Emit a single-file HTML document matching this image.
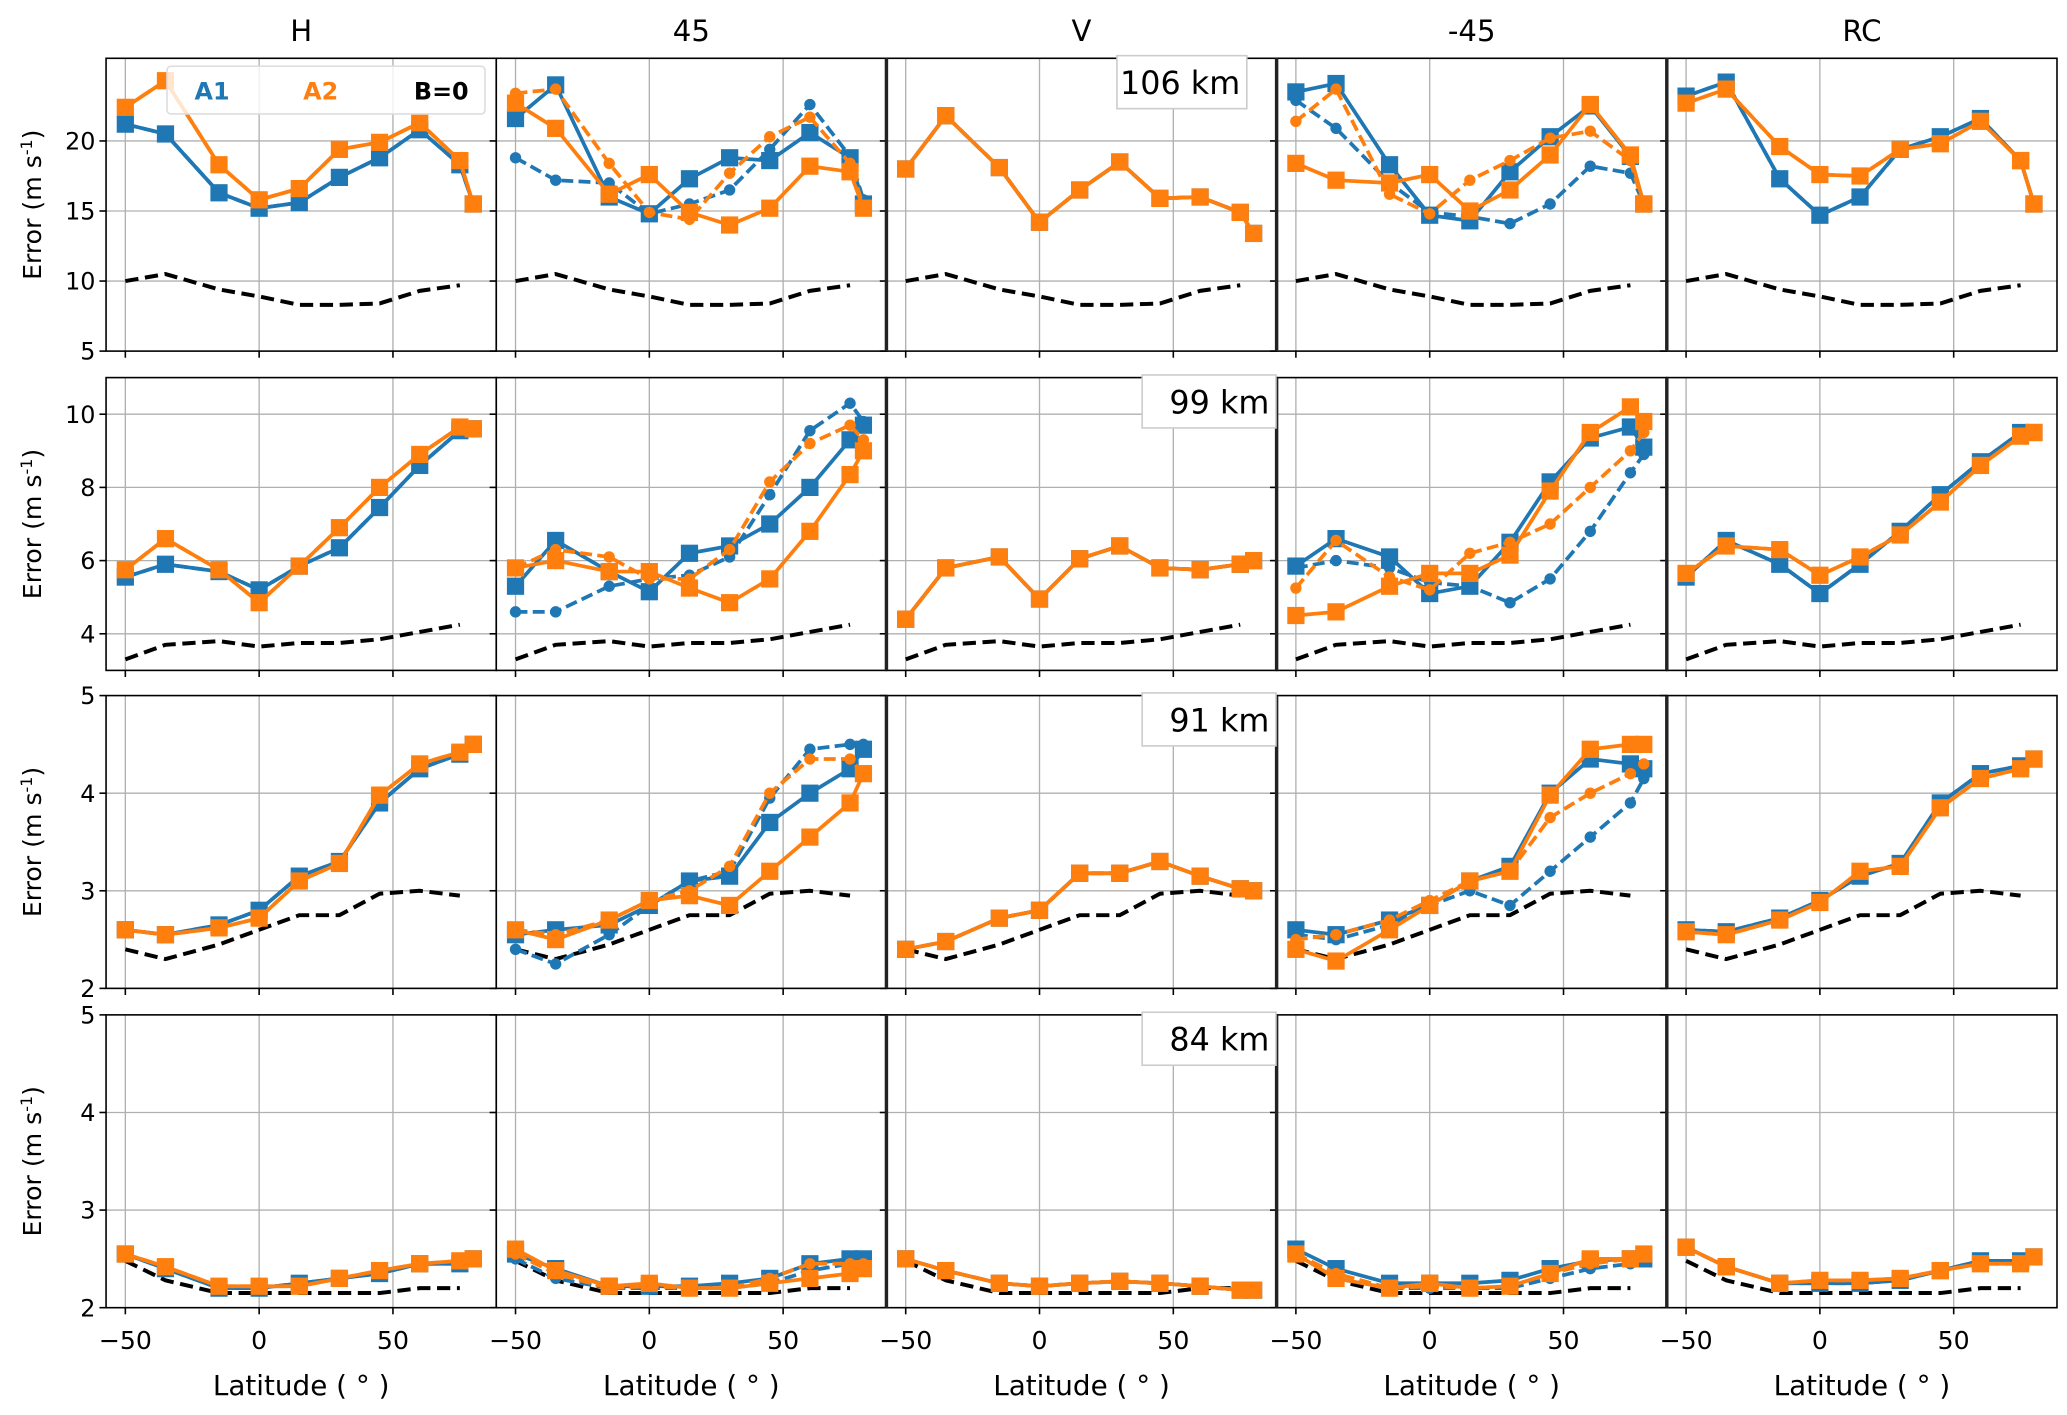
<!DOCTYPE html>
<html><head><meta charset="utf-8"><style>
html,body{margin:0;padding:0;background:#fff}
svg{display:block}
text{font-family:"DejaVu Sans","Liberation Sans",sans-serif}
</style></head><body>
<svg id="fig" width="2067" height="1415" viewBox="0 0 1560 1068" xmlns="http://www.w3.org/2000/svg"></svg>
<script>
const lats = [-50,-35,-15,0,15,30,45,60,75,80];
const colTitles = ["H","45","V","-45","RC"];
const rowLabels = ["106 km","99 km","91 km","84 km"];
const rowYTicks = [[5,10,15,20],[4,6,8,10],[2,3,4,5],[2,3,4,5]];
const xTicks = [-50,0,50];
// B=0 reference (same for every column in a row)
const b0_106 = [10.0,10.5,9.4,8.9,8.3,8.3,8.4,9.3,9.7];
const b0_99 = [3.3,3.7,3.8,3.65,3.75,3.75,3.85,4.05,4.25];
const b0_91 = [2.4,2.3,2.45,2.6,2.75,2.75,2.97,3.0,2.95];
const b0_84 = [2.48,2.28,2.15,2.15,2.15,2.15,2.15,2.2,2.2];
// row 106 km
const r106_H_a1 = [21.2,20.5,16.3,15.2,15.6,17.4,18.8,20.8,18.3,15.5];
const r106_H_a2 = [22.4,24.3,18.3,15.8,16.6,19.4,19.9,21.3,18.6,15.5];
const r106_45_a1s = [21.6,24.0,16.0,14.8,17.3,18.8,18.6,20.6,18.8,15.5];
const r106_45_a1d = [18.8,17.2,17.0,14.8,15.5,16.5,19.4,22.6,18.9,15.8];
const r106_45_a2s = [22.7,20.9,16.2,17.6,14.9,14.0,15.2,18.2,17.8,15.2];
const r106_45_a2d = [23.4,23.7,18.4,14.9,14.4,17.7,20.3,21.7,18.4,15.3];
const r106_V = [18.0,21.8,18.1,14.2,16.5,18.5,15.9,16.0,14.9,13.4];
const r106_m45_a1s = [23.5,24.1,18.3,14.7,14.3,17.8,20.3,22.5,18.9,15.5];
const r106_m45_a1d = [22.9,20.9,17.0,14.9,14.6,14.1,15.5,18.2,17.7,15.5];
const r106_m45_a2s = [18.4,17.2,17.0,17.6,15.0,16.5,19.0,22.6,19.0,15.5];
const r106_m45_a2d = [21.4,23.7,16.2,14.8,17.2,18.6,20.2,20.7,18.6,15.3];
const r106_RC_a1 = [23.2,24.2,17.3,14.7,16.0,19.4,20.3,21.6,18.6,15.5];
const r106_RC_a2 = [22.7,23.7,19.6,17.6,17.5,19.4,19.8,21.4,18.6,15.5];
// row 99 km
const r99_H_a1 = [5.55,5.9,5.7,5.2,5.85,6.35,7.45,8.6,9.55,9.6];
const r99_H_a2 = [5.75,6.6,5.75,4.85,5.85,6.9,8.0,8.9,9.65,9.6];
const r99_45_a1s = [5.3,6.55,5.7,5.15,6.2,6.4,7.0,8.0,9.3,9.7];
const r99_45_a1d = [4.6,4.6,5.3,5.5,5.6,6.1,7.8,9.55,10.3,9.8];
const r99_45_a2s = [5.8,6.0,5.7,5.7,5.25,4.85,5.5,6.8,8.35,9.0];
const r99_45_a2d = [5.8,6.3,6.1,5.5,5.5,6.3,8.15,9.2,9.7,9.3];
const r99_V = [4.4,5.8,6.1,4.95,6.05,6.4,5.8,5.75,5.9,6.0];
const r99_m45_a1s = [5.85,6.6,6.1,5.1,5.3,6.5,8.15,9.35,9.65,9.1];
const r99_m45_a1d = [5.8,6.0,5.8,5.4,5.3,4.85,5.5,6.8,8.4,8.9];
const r99_m45_a2s = [4.5,4.6,5.3,5.65,5.65,6.15,7.9,9.5,10.2,9.8];
const r99_m45_a2d = [5.25,6.55,5.55,5.2,6.2,6.5,7.0,8.0,9.0,9.5];
const r99_RC_a1 = [5.55,6.55,5.9,5.1,5.9,6.8,7.8,8.7,9.5,9.5];
const r99_RC_a2 = [5.65,6.4,6.3,5.6,6.1,6.7,7.6,8.6,9.4,9.5];
// row 91 km
const r91_H_a1 = [2.6,2.55,2.65,2.8,3.15,3.3,3.9,4.25,4.4,4.5];
const r91_H_a2 = [2.6,2.55,2.62,2.72,3.1,3.28,3.98,4.3,4.42,4.5];
const r91_45_a1s = [2.55,2.6,2.65,2.85,3.1,3.15,3.7,4.0,4.25,4.45];
const r91_45_a1d = [2.4,2.25,2.55,2.85,3.1,3.2,3.95,4.45,4.5,4.5];
const r91_45_a2s = [2.6,2.5,2.7,2.9,2.95,2.85,3.2,3.55,3.9,4.2];
const r91_45_a2d = [2.6,2.55,2.7,2.9,3.0,3.25,4.0,4.35,4.35,4.2];
const r91_V = [2.4,2.48,2.72,2.8,3.18,3.18,3.3,3.15,3.02,3.0];
const r91_m45_a1s = [2.6,2.55,2.7,2.85,3.1,3.25,4.0,4.35,4.3,4.25];
const r91_m45_a1d = [2.55,2.5,2.65,2.85,3.0,2.85,3.2,3.55,3.9,4.15];
const r91_m45_a2s = [2.4,2.28,2.6,2.85,3.1,3.2,3.98,4.45,4.5,4.5];
const r91_m45_a2d = [2.5,2.55,2.7,2.9,3.1,3.2,3.75,4.0,4.2,4.3];
const r91_RC_a1 = [2.6,2.58,2.72,2.9,3.15,3.28,3.9,4.2,4.28,4.35];
const r91_RC_a2 = [2.58,2.55,2.7,2.88,3.2,3.25,3.85,4.15,4.25,4.35];
// row 84 km
const r84_H_a1 = [2.55,2.4,2.2,2.2,2.25,2.3,2.35,2.45,2.45,2.5];
const r84_H_a2 = [2.55,2.42,2.22,2.22,2.22,2.3,2.38,2.45,2.48,2.5];
const r84_45_a1s = [2.55,2.4,2.22,2.22,2.22,2.25,2.3,2.45,2.5,2.5];
const r84_45_a1d = [2.5,2.3,2.2,2.2,2.2,2.2,2.25,2.38,2.45,2.5];
const r84_45_a2s = [2.6,2.38,2.22,2.25,2.2,2.2,2.25,2.3,2.35,2.4];
const r84_45_a2d = [2.55,2.35,2.2,2.22,2.2,2.2,2.3,2.45,2.45,2.45];
const r84_V = [2.5,2.38,2.25,2.22,2.25,2.27,2.25,2.22,2.18,2.18];
const r84_m45_a1s = [2.6,2.4,2.25,2.25,2.25,2.28,2.4,2.48,2.5,2.5];
const r84_m45_a1d = [2.55,2.3,2.2,2.2,2.2,2.2,2.3,2.4,2.45,2.5];
const r84_m45_a2s = [2.55,2.3,2.2,2.25,2.2,2.22,2.35,2.5,2.5,2.55];
const r84_m45_a2d = [2.55,2.35,2.2,2.22,2.2,2.22,2.35,2.45,2.5,2.55];
const r84_RC_a1 = [2.62,2.42,2.25,2.25,2.25,2.28,2.38,2.48,2.48,2.52];
const r84_RC_a2 = [2.62,2.42,2.25,2.28,2.28,2.3,2.38,2.45,2.45,2.52];

const rowB0 = [b0_106,b0_99,b0_91,b0_84];
const rowYLim = [[5,25.9],[3.0,11.0],[2,5],[2,5]];
const grid = [
 [[r106_H_a1,r106_H_a1,r106_H_a2,r106_H_a2],[r106_45_a1s,r106_45_a1d,r106_45_a2s,r106_45_a2d],[r106_V,r106_V,r106_V,r106_V],[r106_m45_a1s,r106_m45_a1d,r106_m45_a2s,r106_m45_a2d],[r106_RC_a1,r106_RC_a1,r106_RC_a2,r106_RC_a2]],
 [[r99_H_a1,r99_H_a1,r99_H_a2,r99_H_a2],[r99_45_a1s,r99_45_a1d,r99_45_a2s,r99_45_a2d],[r99_V,r99_V,r99_V,r99_V],[r99_m45_a1s,r99_m45_a1d,r99_m45_a2s,r99_m45_a2d],[r99_RC_a1,r99_RC_a1,r99_RC_a2,r99_RC_a2]],
 [[r91_H_a1,r91_H_a1,r91_H_a2,r91_H_a2],[r91_45_a1s,r91_45_a1d,r91_45_a2s,r91_45_a2d],[r91_V,r91_V,r91_V,r91_V],[r91_m45_a1s,r91_m45_a1d,r91_m45_a2s,r91_m45_a2d],[r91_RC_a1,r91_RC_a1,r91_RC_a2,r91_RC_a2]],
 [[r84_H_a1,r84_H_a1,r84_H_a2,r84_H_a2],[r84_45_a1s,r84_45_a1d,r84_45_a2s,r84_45_a2d],[r84_V,r84_V,r84_V,r84_V],[r84_m45_a1s,r84_m45_a1d,r84_m45_a2s,r84_m45_a2d],[r84_RC_a1,r84_RC_a1,r84_RC_a2,r84_RC_a2]]
];

const NS = "http://www.w3.org/2000/svg";
const svg = document.getElementById("fig");
function mk(tag, attrs, parent){
  const e = document.createElementNS(NS, tag);
  for (const k in attrs) e.setAttribute(k, attrs[k]);
  (parent||svg).appendChild(e);
  return e;
}
const colX = [80,374.5,669,963.5,1258];
const panelW = 294.5;
const rowY = [44,285,525,766];
const panelH = 221;
const XMIN = -57.2, XMAX = 88.6;
const BLUE = "#1f77b4", ORANGE = "#ff7f0e";

for (let r=0;r<4;r++){
  for (let c=0;c<5;c++){
    const x0 = colX[c], y0 = rowY[r];
    const g = mk("g",{});
    
    
    const [ymin,ymax] = rowYLim[r];
    const sx = v => x0 + (v - XMIN)/(XMAX - XMIN)*panelW;
    const sy = v => y0 + panelH - (v - ymin)/(ymax - ymin)*panelH;
    xTicks.forEach(t=>{
      const gl = mk("line",{x1:sx(t),x2:sx(t),y1:y0,y2:y0+panelH,stroke:"#b0b0b0","stroke-width":1},g);
      
      
      const tk = mk("line",{x1:sx(t),x2:sx(t),y1:y0+panelH,y2:y0+panelH+5,stroke:"#000","stroke-width":1.2},g);
      
      
      if (r===3){
        const tl = mk("text",{x:sx(t),y:1018,"text-anchor":"middle","font-size":19,fill:"#000"},g);
        tl.textContent = t<0 ? "\u2212"+Math.abs(t) : String(t);
        
        
      }
    });
    rowYTicks[r].forEach(t=>{
      if (t>ymin && t<ymax){
        const gl = mk("line",{x1:x0,x2:x0+panelW,y1:sy(t),y2:sy(t),stroke:"#b0b0b0","stroke-width":1},g);
        
        
      }
      const tk = mk("line",{x1:x0-5,x2:x0,y1:sy(t),y2:sy(t),stroke:"#000","stroke-width":1.2},g);
      
      
      if (c===0){
        const tl = mk("text",{x:x0-8,y:sy(t)+6.5,"text-anchor":"end","font-size":18,fill:"#000"},g);
        tl.textContent = String(t);
        
        
      }
    });
    const cid = "clip"+r+"_"+c;
    const cp = mk("clipPath",{id:cid},g);
    mk("rect",{x:x0,y:y0,width:panelW,height:panelH},cp);
    const dg = mk("g",{"clip-path":"url(#"+cid+")"},g);
    const b0 = rowB0[r];
    const bl = mk("polyline",{points:b0.map((v,i)=>sx(lats[i])+","+sy(v)).join(" "),fill:"none",stroke:"#000","stroke-width":3,"stroke-dasharray":"10,5"},dg);
    
    
    const ser = grid[r][c];
    const specs = [
      {d:ser[0],col:BLUE,dash:null,mark:"sq",name:"a1-solid"},
      {d:ser[1],col:BLUE,dash:"9,4",mark:"ci",name:"a1-dashed"},
      {d:ser[3],col:ORANGE,dash:"9,4",mark:"ci",name:"a2-dashed"},
      {d:ser[2],col:ORANGE,dash:null,mark:"sq",name:"a2-solid"}
    ];
    specs.forEach(s=>{
      const sg = mk("g",{},dg);
      
      
      const pl = mk("polyline",{points:s.d.map((v,i)=>sx(lats[i])+","+sy(v)).join(" "),fill:"none",stroke:s.col,"stroke-width":2.8},sg);
      if (s.dash) pl.setAttribute("stroke-dasharray",s.dash);
      
      
      s.d.forEach((v,i)=>{
        let m;
        if (s.mark==="sq"){
          m = mk("rect",{x:sx(lats[i])-6.5,y:sy(v)-6.5,width:13,height:13,fill:s.col},sg);
        } else {
          m = mk("circle",{cx:sx(lats[i]),cy:sy(v),r:4.3,fill:s.col},sg);
        }
        
        
      });
    });
    const fr = mk("rect",{x:x0,y:y0,width:panelW,height:panelH,fill:"none",stroke:"#000","stroke-width":1.2},g);
    
    
    if (c>=2){
      const dv = mk("line",{x1:x0,x2:x0,y1:y0,y2:y0+panelH,stroke:"#222","stroke-width":2.6},g);
      
      
    }
  }
  const lb = mk("g",{});
  
  
  const by = rowY[r];
  const bx = (r===0?843:862), bw = (r===0?98:101);
  mk("rect",{x:bx,y:by-2,width:bw,height:40,fill:"#fff",stroke:"#ccc","stroke-width":1.2},lb);
  const lt = mk("text",{x:bx+bw-5,y:by+27,"text-anchor":"end","font-size":24,fill:"#000"},lb);
  lt.textContent = rowLabels[r];
  const yl = mk("text",{x:0,y:0,"text-anchor":"middle","font-size":19,fill:"#000",transform:"translate(31,"+(rowY[r]+panelH/2)+") rotate(-90)"});
  yl.innerHTML = 'Error (m s<tspan font-size="12" dy="-7">-1</tspan><tspan dy="7">)</tspan>';
  
  
}
for (let c=0;c<5;c++){
  const t = mk("text",{x:colX[c]+panelW/2,y:31,"text-anchor":"middle","font-size":22,fill:"#000"});
  t.textContent = colTitles[c];
  
  
  const xl = mk("text",{x:colX[c]+panelW/2,y:1053,"text-anchor":"middle","font-size":21,fill:"#000"});
  xl.textContent = "Latitude ( \u00b0 )";
  
  
}
const lg = mk("g",{});


mk("rect",{x:126,y:50,width:240,height:36,rx:3,fill:"#fff","fill-opacity":0.8,stroke:"#ddd","stroke-width":1.2},lg);
[["A1",BLUE,160],["A2",ORANGE,242],["B=0","#000",333]].forEach(e=>{
  const t = mk("text",{x:e[2],y:75,"text-anchor":"middle","font-size":18,"font-weight":"bold",fill:e[1]},lg);
  t.textContent = e[0];
  
  
});
</script>
</body></html>
